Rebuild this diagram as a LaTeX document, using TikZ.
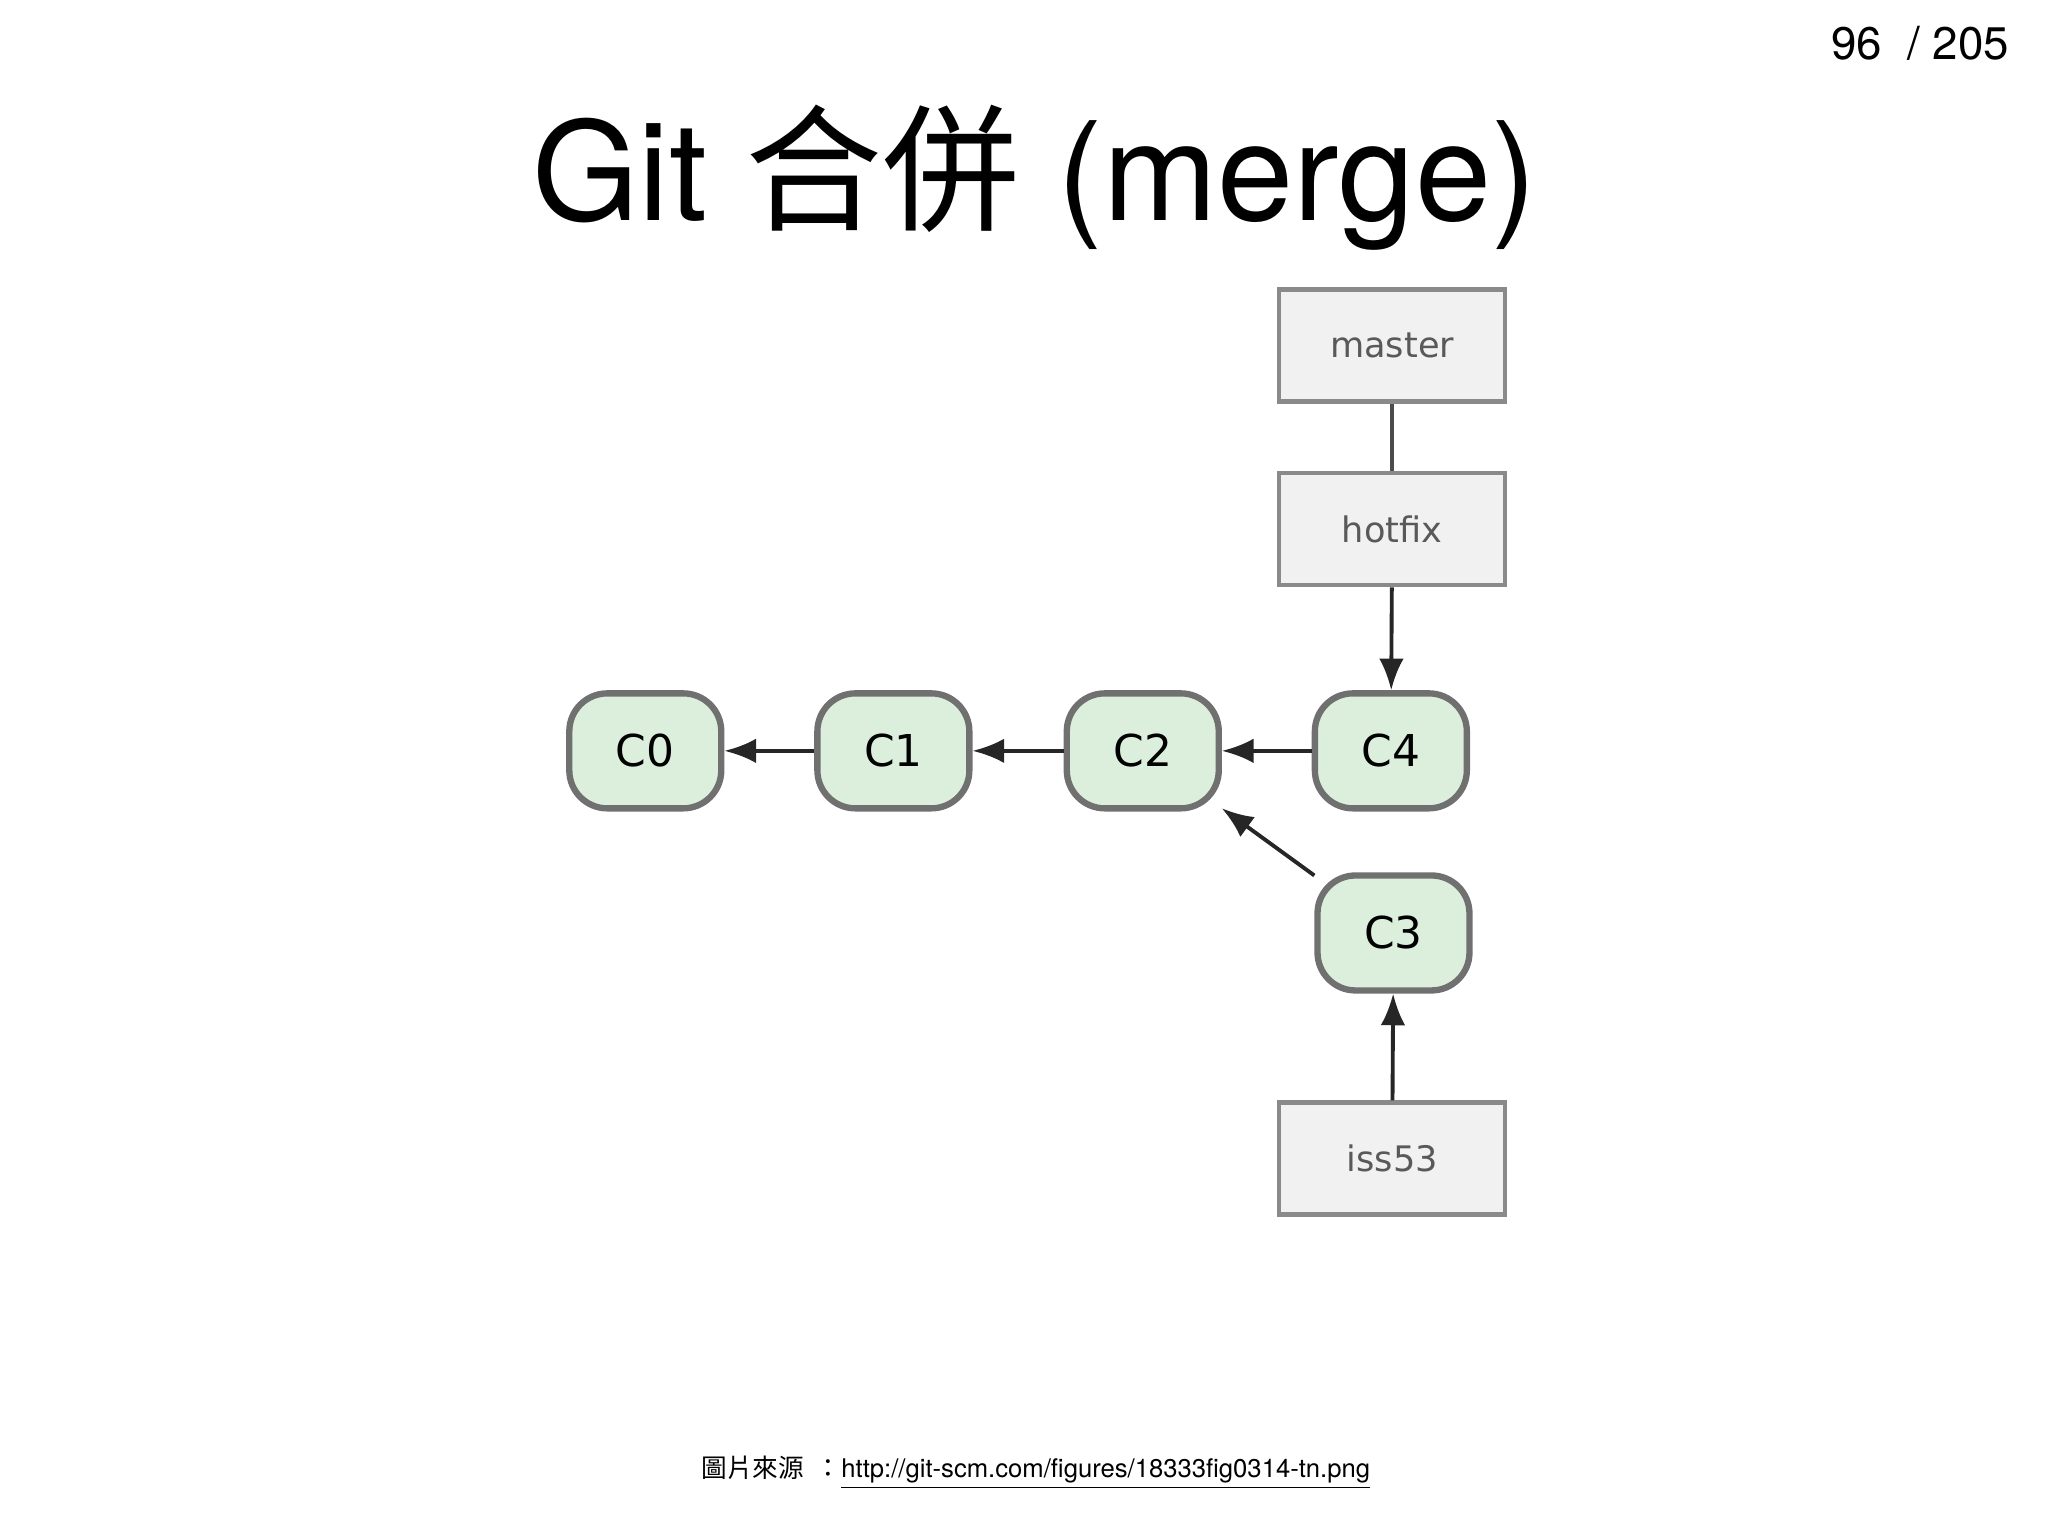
\documentclass[tikz,border=0pt]{standalone}
\usepackage{fontspec}
\setmainfont{TeX Gyre Heros}
\newfontfamily\cjk{Noto Sans CJK TC}
\newfontfamily\lbl{DejaVu Sans}
\usetikzlibrary{positioning, arrows.meta}

\definecolor{commitfill}{HTML}{DCEFDC}
\definecolor{commitdraw}{HTML}{707070}
\definecolor{reffill}{HTML}{F1F1F1}
\definecolor{refdraw}{HTML}{8A8A8A}

\begin{document}
\begin{tikzpicture}
    [
      x=0.013196cm, y=-0.013196cm,
      commit/.style = {shape=rectangle, rounded corners=0.38cm, draw=commitdraw, line width=1.8pt,
        fill=commitfill, minimum width=1.52cm, minimum height=1.15cm, font=\lbl\fontsize{12.5}{15}\selectfont},
      ref/.style = {shape=rectangle, draw=refdraw, line width=1.3pt, fill=reffill,
        minimum width=2.26cm, minimum height=1.12cm, font=\lbl\fontsize{10}{12}\selectfont, text=black!65},
      link/.style = {-{Latex[length=9pt,width=7pt]}, line width=1.1pt, black!85}
    ]
    \useasboundingbox (0,0) rectangle (1552,1164);

    % title and page number
    \node (title) at (784,135) {\fontsize{39}{45}\selectfont Git {\cjk 合併} (merge)};
    \node[anchor=east] (page) at (1532,33) {\fontsize{13}{16}\selectfont 96 \ / 205};

    % commits
    \node[commit] (c0) at (489,569) {C0};
    \node[commit] (c1) at (677,569) {C1};
    \node[commit] (c2) at (866,569) {C2};
    \node[commit] (c4) at (1054,569) {C4};
    \node[commit] (c3) at (1056,707) {C3};

    % branches
    \node[ref] (master) at (1055,262) {master};
    \node[ref] (hotfix) at (1055,401) {hotfix};
    \node[ref] (iss53) at (1055,878) {iss53};

    \draw[link] (c1) -- (c0);
    \draw[link] (c2) -- (c1);
    \draw[link] (c4) -- (c2);
    \draw[link] (c3) -- (c2);
    \draw[link] (hotfix) -- (c4);
    \draw[link] (iss53) -- (c3);
    \draw[line width=1.1pt, black!70] (master) -- (hotfix);

    % source
    \node (src) at (785,1116) {\fontsize{7.3}{9}\selectfont {\cjk 圖片來源 \ ：}\underline{http://git-scm.com/figures/18333fig0314-tn.png}};
\end{tikzpicture}
\end{document}
